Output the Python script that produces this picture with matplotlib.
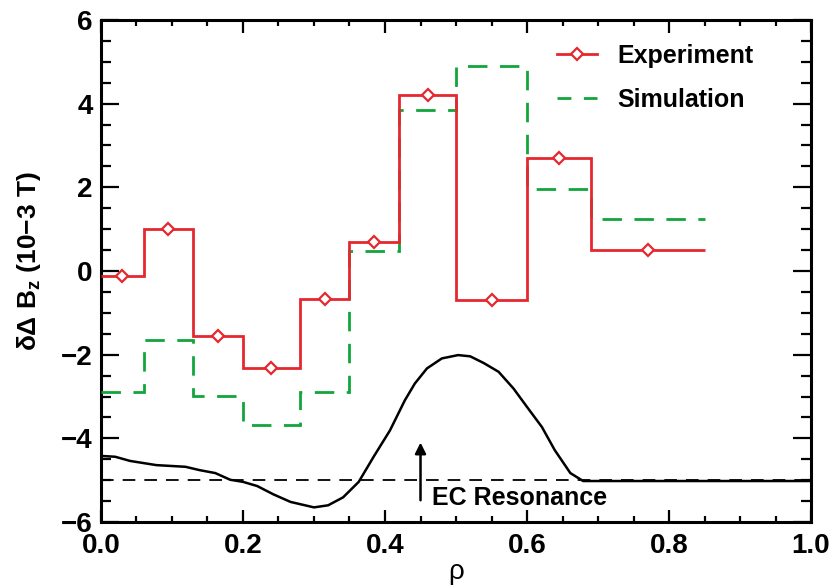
import matplotlib
matplotlib.use("Agg")
import matplotlib.pyplot as plt
import numpy as np

FONT = ['Liberation Sans Narrow', 'Liberation Sans', 'DejaVu Sans']
plt.rcParams['font.family'] = FONT
plt.rcParams['mathtext.fontset'] = 'custom'
plt.rcParams['mathtext.rm'] = 'Liberation Sans'
plt.rcParams['mathtext.bf'] = 'Liberation Sans:bold'
plt.rcParams['mathtext.it'] = 'Liberation Sans:italic'
plt.rcParams['mathtext.default'] = 'bf'

# ---- data ----
bin_edges = [0.0, 0.06, 0.13, 0.20, 0.28, 0.35, 0.42, 0.50, 0.60, 0.69, 0.85]
experiment = [-0.13, 1.01, -1.55, -2.32, -0.68, 0.69, 4.20, -0.69, 2.70, 0.51]
simulation = [-2.89, -1.66, -2.99, -3.69, -2.89, 0.48, 3.84, 4.90, 1.97, 1.25]

ec_rho = [0.0, 0.02, 0.041, 0.078, 0.119, 0.139, 0.161, 0.182, 0.200, 0.220,
          0.243, 0.267, 0.300, 0.320, 0.341, 0.363, 0.384, 0.407, 0.428,
          0.442, 0.459, 0.480, 0.503, 0.520, 0.539, 0.560, 0.581, 0.600,
          0.621, 0.639, 0.661, 0.679, 1.0]
ec_val = [-4.42, -4.44, -4.54, -4.64, -4.68, -4.76, -4.83, -4.99, -5.04, -5.14,
          -5.34, -5.52, -5.65, -5.60, -5.41, -5.04, -4.44, -3.81, -3.09,
          -2.69, -2.33, -2.09, -2.01, -2.04, -2.20, -2.41, -2.81, -3.25,
          -3.73, -4.28, -4.83, -5.02, -5.02]
baseline = -5.0

xticks = [0.0, 0.2, 0.4, 0.6, 0.8, 1.0]
yticks = [-6, -4, -2, 0, 2, 4, 6]

RED = '#E5282F'
GREEN = '#11A53A'

fig = plt.figure(figsize=(8.31, 5.87), dpi=100)
ax = fig.add_axes([0.1215, 0.1107, 0.8545, 0.8553])

edges = np.array(bin_edges)
mids = 0.5 * (edges[:-1] + edges[1:])

# black baseline dashed
ax.plot([0, 1], [baseline, baseline], color='black', lw=1.3, dashes=(7, 5), zorder=1)
# EC deposition curve
ax.plot(ec_rho, ec_val, color='black', lw=1.8, zorder=2)

# simulation step
ax.stairs(simulation, edges, color=GREEN, lw=2.0, linestyle=(0, (7, 4.5)), zorder=3,
          baseline=None)
# experiment step
ax.stairs(experiment, edges, color=RED, lw=2.0, zorder=4, baseline=None)
ax.plot(mids, experiment, linestyle='none', marker='D', ms=6.5, mfc='white',
        mec=RED, mew=1.6, zorder=5)

# legend handles
h_exp, = ax.plot([], [], color=RED, lw=2.0, marker='D', ms=6.5, mfc='white', mec=RED, mew=1.6)
h_sim, = ax.plot([], [], color=GREEN, lw=2.0, linestyle=(0, (5, 4.5)))
leg = ax.legend([h_exp, h_sim], ['Experiment', 'Simulation'], loc='upper left',
                bbox_to_anchor=(0.628, 0.972), frameon=False, handlelength=1.6,
                handletextpad=0.8, labelspacing=0.78, borderaxespad=0,
                prop={'family': FONT, 'weight': 'bold', 'size': 18})

# arrow & annotation
ax.annotate('', xy=(0.45, -4.1), xytext=(0.45, -5.48),
            arrowprops=dict(arrowstyle='-|>', color='black', lw=1.8,
                            mutation_scale=16, shrinkA=0, shrinkB=0))
ax.text(0.466, -5.43, 'EC Resonance', fontsize=18, fontweight='bold', va='center',
        ha='left')

ax.set_xlim(0, 1)
ax.set_ylim(-6, 6)
ax.set_xticks(xticks)
ax.set_xticklabels([f'{v:.1f}' for v in xticks])
ax.set_yticks(yticks)
ax.set_yticklabels([str(v).replace('-', '\u2212') for v in yticks])
ax.set_xticks(np.arange(0, 1.0001, 0.05), minor=True)
ax.set_yticks(np.arange(-6, 6.001, 0.5), minor=True)

for s in ax.spines.values():
    s.set_linewidth(2.2)
ax.tick_params(axis='both', which='both', direction='in', top=True, right=True,
               width=1.6)
ax.tick_params(axis='x', which='major', length=9, labelsize=20, pad=8)
ax.tick_params(axis='x', which='minor', length=4.5)
ax.tick_params(axis='y', which='major', length=13, labelsize=20, pad=6)
ax.tick_params(axis='y', which='minor', length=7)
for lab in ax.get_xticklabels() + ax.get_yticklabels():
    lab.set_fontweight('bold')

ax.set_xlabel('ρ', fontsize=20, labelpad=0)
ax.set_ylabel('δΔ $\\mathbf{B_z}$ (10−3 T)', fontsize=19, fontweight='bold')
ax.yaxis.set_label_coords(-0.082, 0.52)

fig.savefig('out.png', dpi=100)
